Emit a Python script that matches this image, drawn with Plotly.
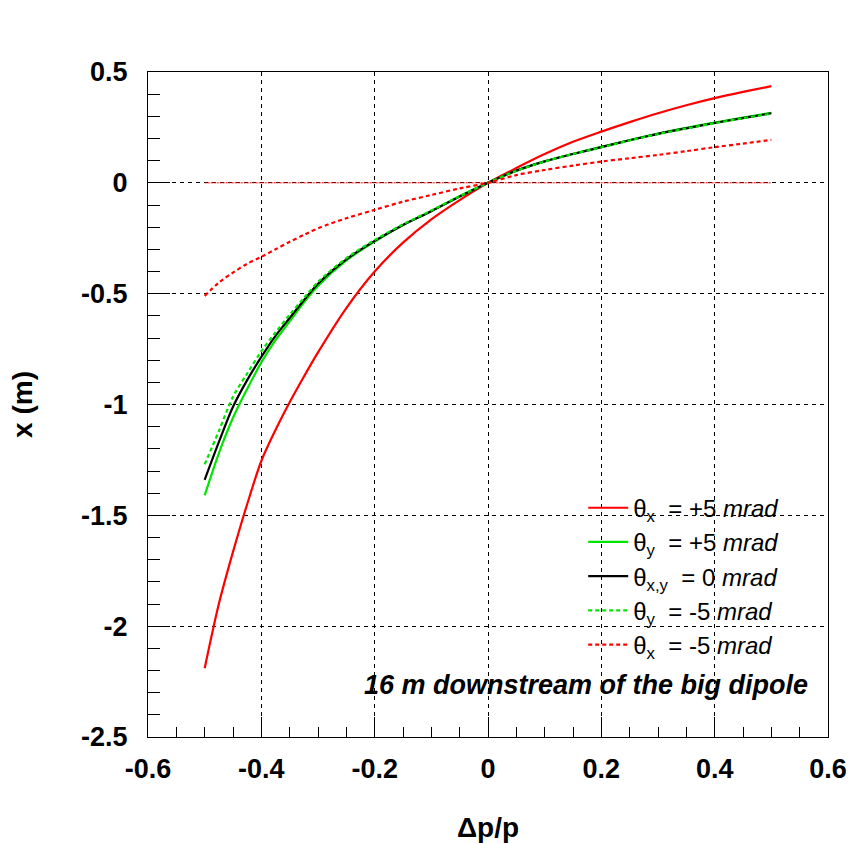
import plotly.graph_objects as go

# Momentum deviation dp/p at which each track was evaluated
dp = [-0.5, -0.475, -0.45, -0.425, -0.4, -0.375, -0.35, -0.325, -0.3, -0.25,
      -0.2, -0.15, -0.1, -0.05, 0.0, 0.05, 0.1, 0.15, 0.2, 0.25,
      0.3, 0.35, 0.4, 0.45, 0.5]

# Horizontal position x (m) for each initial angle
x_thx_plus5 = [-2.19, -1.90, -1.665, -1.45, -1.255, -1.115, -0.99, -0.875, -0.765, -0.565,
               -0.40, -0.27, -0.165, -0.078, 0.0, 0.067, 0.13, 0.185, 0.231, 0.274,
               0.314, 0.35, 0.382, 0.41, 0.436]
x_thy_plus5 = [-1.41, -1.22, -1.06, -0.93, -0.81, -0.71, -0.625, -0.54, -0.465, -0.35,
               -0.265, -0.19, -0.127, -0.061, 0.0, 0.055, 0.097, 0.131, 0.162, 0.193,
               0.222, 0.248, 0.272, 0.294, 0.316]
x_th0 = [-1.34, -1.17, -1.01, -0.89, -0.785, -0.69, -0.61, -0.53, -0.455, -0.345,
         -0.262, -0.19, -0.128, -0.062, 0.0, 0.055, 0.097, 0.13, 0.161, 0.192,
         0.221, 0.246, 0.27, 0.292, 0.314]
x_thy_minus5 = [-1.27, -1.12, -0.965, -0.86, -0.76, -0.675, -0.595, -0.52, -0.447, -0.34,
                -0.258, -0.187, -0.125, -0.06, 0.0, 0.054, 0.096, 0.13, 0.16, 0.191,
                0.22, 0.245, 0.269, 0.291, 0.312]
x_thx_minus5 = [-0.51, -0.45, -0.405, -0.365, -0.334, -0.30, -0.266, -0.235, -0.205, -0.16,
                -0.122, -0.085, -0.055, -0.025, 0.0, 0.035, 0.058, 0.078, 0.096, 0.111,
                0.126, 0.143, 0.161, 0.177, 0.194]

# Reference line at x = 0 over the scanned momentum range
ref_dp = [-0.5, 0.5]
ref_x = [0.0, 0.0]

NB = "\u00a0"
series = [
    (f"θ<sub>x</sub>{NB} ={NB}+5 <i>mrad</i>", x_thx_plus5, "#ff0000", "solid"),
    (f"θ<sub>y</sub>{NB} ={NB}+5 <i>mrad</i>", x_thy_plus5, "#00e600", "solid"),
    (f"θ<sub>x,y</sub>{NB} ={NB}0 <i>mrad</i>", x_th0, "#000000", "solid"),
    (f"θ<sub>y</sub>{NB} ={NB}-5 <i>mrad</i>", x_thy_minus5, "#00e600", "4px,3px"),
    (f"θ<sub>x</sub>{NB} ={NB}-5 <i>mrad</i>", x_thx_minus5, "#ff0000", "4px,3px"),
]

fig = go.Figure()

fig.add_trace(go.Scatter(
    x=ref_dp, y=ref_x, mode="lines", showlegend=False, hoverinfo="skip",
    line=dict(color="#ff0000", width=1, dash="2px,1px"),
))

for name, xs, color, dash in series:
    fig.add_trace(go.Scatter(
        x=dp, y=xs, mode="lines", name=name,
        line=dict(color=color, width=2.2, dash=dash, shape="spline", smoothing=0.9),
    ))

FAMILY = "Liberation Sans, Arial, sans-serif"
tick_font = dict(family=FAMILY, size=27, color="black", weight="bold")
title_font = dict(family=FAMILY, size=28, color="black", weight="bold")

fig.update_xaxes(
    range=[-0.6, 0.6], tickvals=[-0.6, -0.4, -0.2, 0, 0.2, 0.4, 0.6],
    ticktext=["-0.6", "-0.4", "-0.2", "0", "0.2", "0.4", "0.6"],
    ticks="inside", ticklen=20, tickwidth=1, tickcolor="black",
    minor=dict(dtick=0.05, ticks="inside", ticklen=10, tickwidth=1, tickcolor="black", showgrid=False),
    showgrid=True, gridcolor="black", gridwidth=1, griddash="4px,4px",
    showline=True, linecolor="black", linewidth=1, mirror=True,
    zeroline=False, tickfont=tick_font, ticklabelstandoff=8, automargin=False,
    title=dict(text="Δp/p", font=title_font, standoff=33),
)
fig.update_yaxes(
    range=[-2.5, 0.5], tickvals=[-2.5, -2, -1.5, -1, -0.5, 0, 0.5],
    ticktext=["-2.5", "-2", "-1.5", "-1", "-0.5", "0", "0.5"],
    ticks="inside", ticklen=22, tickwidth=1, tickcolor="black",
    minor=dict(dtick=0.1, ticks="inside", ticklen=12, tickwidth=1, tickcolor="black", showgrid=False),
    showgrid=True, gridcolor="black", gridwidth=1, griddash="4px,4px",
    showline=True, linecolor="black", linewidth=1, mirror=True,
    zeroline=False, tickfont=tick_font, ticklabelstandoff=14, automargin=False,
    title=dict(text="x (m)", font=title_font, standoff=40),
)

fig.add_annotation(
    text="<b><i>16 m downstream of the big dipole</i></b>",
    xref="paper", yref="paper", x=0.314, y=0.078, xanchor="left", yanchor="middle",
    showarrow=False,
    font=dict(family=FAMILY, size=27, color="black"),
)

fig.update_layout(
    width=852, height=843,
    margin=dict(l=148, r=24, t=72, b=106),
    paper_bgcolor="white", plot_bgcolor="white",
    showlegend=True,
    legend=dict(
        x=0.64, y=0.378, xanchor="left", yanchor="top",
        bgcolor="rgba(0,0,0,0)", borderwidth=0,
        font=dict(family=FAMILY, size=24, color="black"),
        itemwidth=40, tracegroupgap=0,
    ),
)

fig.write_html("out.html")
